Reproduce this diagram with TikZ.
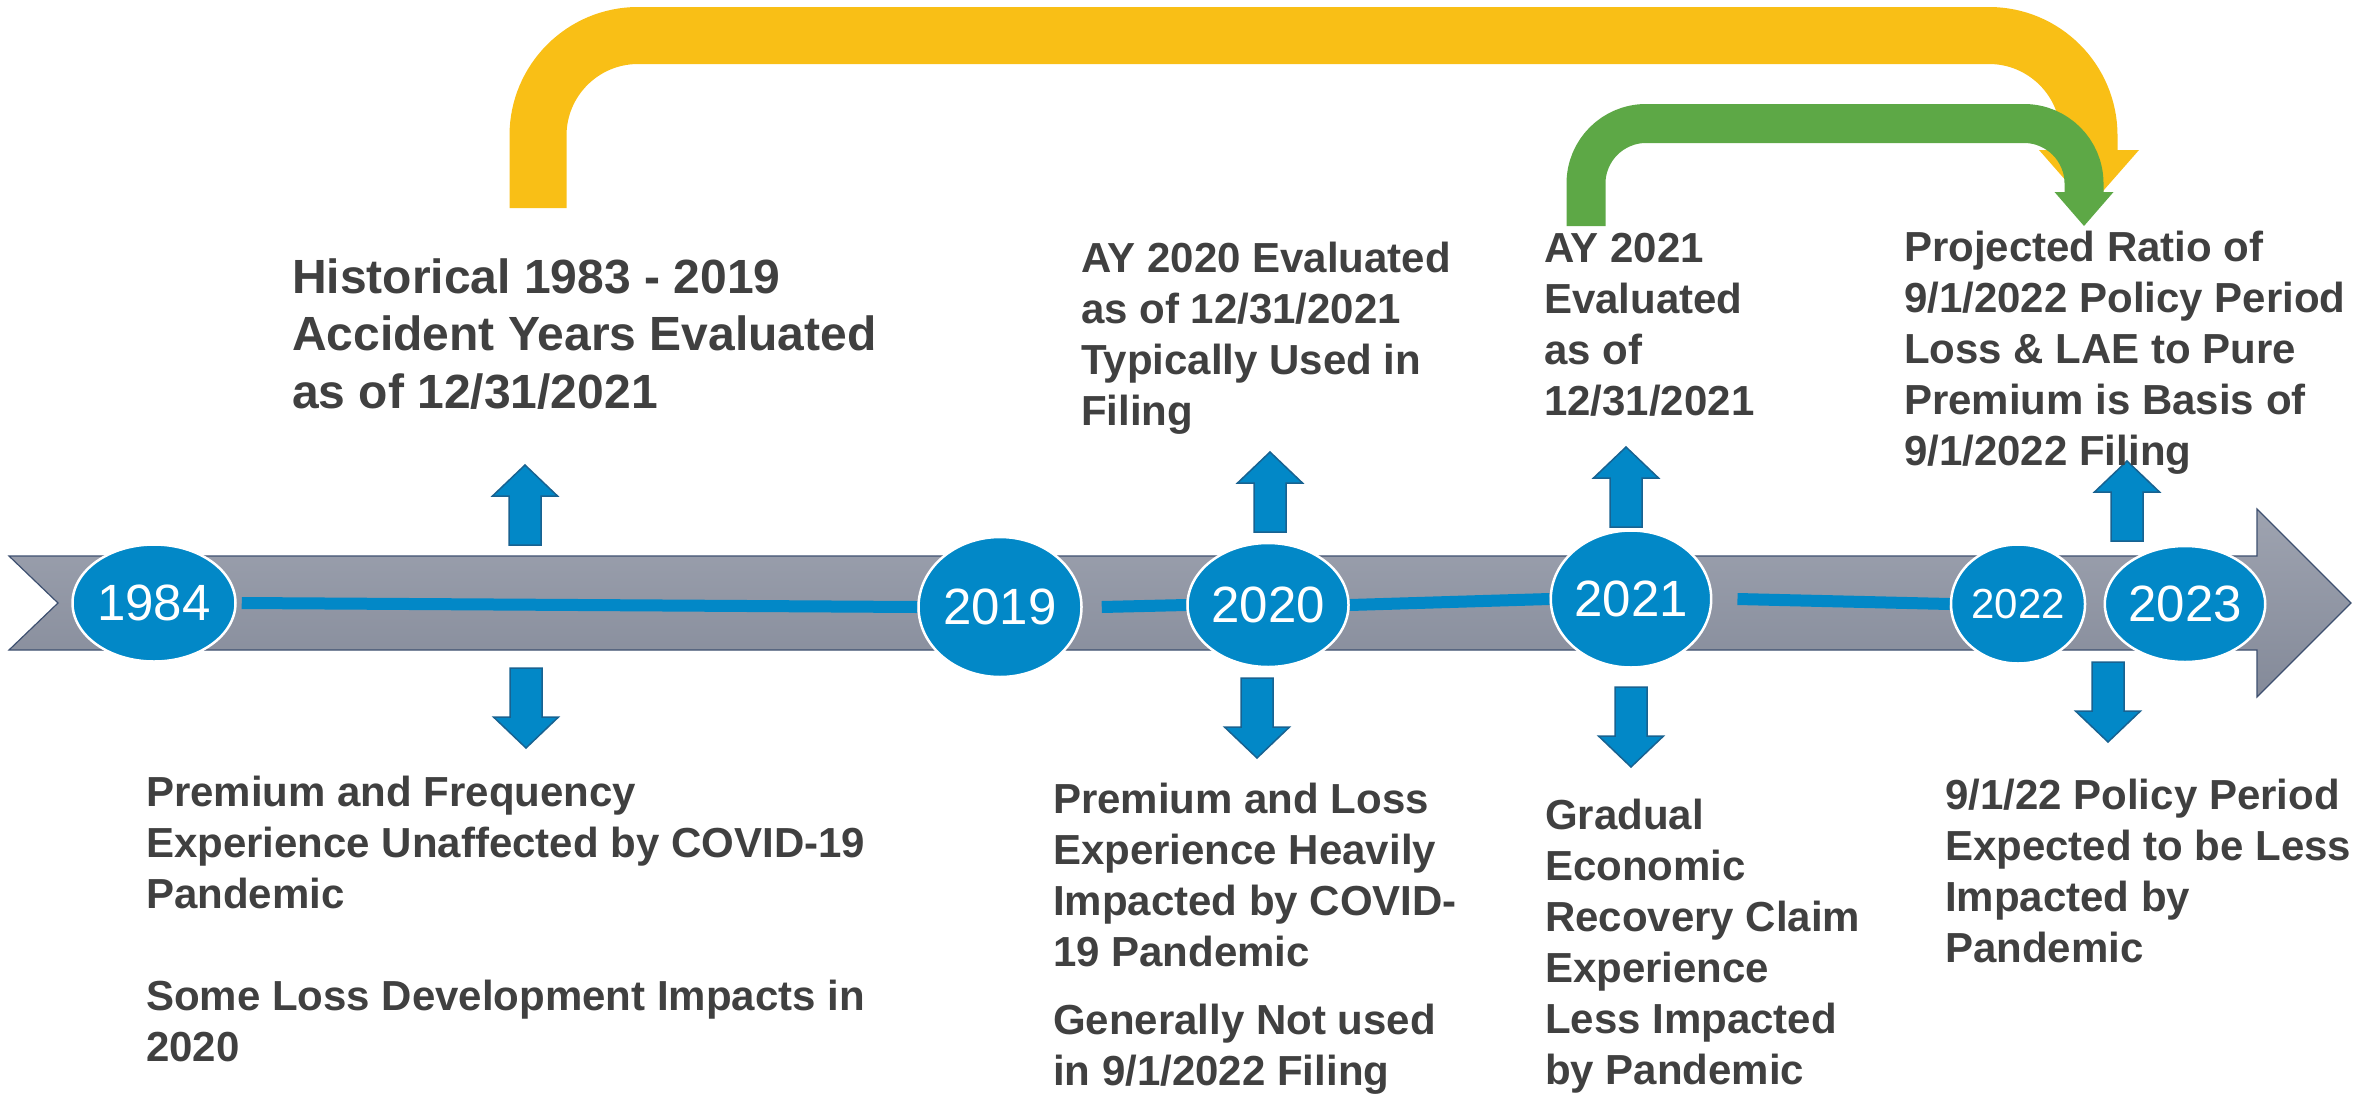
\documentclass[tikz,border=0pt]{standalone}
\usepackage{fontspec}
\setmainfont{Liberation Sans}
\usetikzlibrary{shapes.geometric,backgrounds}

\definecolor{yearblue}{RGB}{2,136,199}
\definecolor{arrowedge}{RGB}{24,98,145}
\definecolor{bandtop}{RGB}{158,163,176}
\definecolor{bandbot}{RGB}{132,138,153}
\definecolor{bandedge}{RGB}{62,80,112}
\definecolor{textgray}{RGB}{64,64,64}
\definecolor{arcyellow}{RGB}{249,191,22}
\definecolor{arcgreen}{RGB}{93,168,70}

\tikzset{
	year/.style={ellipse, fill=yearblue, draw=white, line width=2.5pt, inner sep=0pt, text=white, font=\fontsize{51}{51}\selectfont},
	note/.style={anchor=base west, align=left, inner sep=0pt, text=textgray, font=\bfseries\fontsize{42}{51}\selectfont},
	blockarrow/.style={fill=yearblue, draw=arrowedge, line width=1.5pt},
	tline/.style={draw=yearblue, line width=12pt},
}

\begin{document}
\begin{tikzpicture}[x=1pt, y=-1pt]
	\useasboundingbox (0,0) rectangle (2379,1095);

	% years on the band
	\node[year, minimum width=163pt, minimum height=117pt] (y1984) at (154,603) {1984};
	\node[year, minimum width=163pt, minimum height=140pt] (y2019) at (1000,607) {2019};
	\node[year, minimum width=161pt, minimum height=124pt] (y2020) at (1268,605) {2020};
	\node[year, minimum width=155pt, minimum height=137pt] (y2021) at (1631,599) {2021};
	\node[year, minimum width=134pt, minimum height=119pt, font=\fontsize{42}{42}\selectfont] (y2022) at (2018,604) {2022};
	\node[year, minimum width=136pt, minimum height=116pt] (y2023) at (2185,604) {2023};

	\begin{scope}[on background layer]
		\draw[top color=bandtop, bottom color=bandbot, draw=bandedge, line width=1.2pt]
			(9,556) -- (2257,556) -- (2257,509) -- (2351,603) -- (2257,697) -- (2257,650) -- (9,650) -- (58,603) -- cycle;
		\foreach \a/\b/\g in {1984/2019/5, 2019/2020/19, 2020/2021/0, 2021/2022/25}{
			\draw[tline] ([xshift=\g]y\a.east) -- (y\b.west);
		}
	\end{scope}

	% block arrows above and below the band
	\foreach \x/\y in {525/465, 1270/452, 1626/447, 2127/461}{
		\draw[blockarrow] (\x,\y) -- ++(32.5,31) -- ++(-16.5,0) -- ++(0,49) -- ++(-32,0) -- ++(0,-49) -- ++(-16.5,0) -- cycle;
	}
	\foreach \x/\y in {526/748, 1257/758, 1631/767, 2108/742}{
		\draw[blockarrow] (\x,\y) -- ++(32.5,-31) -- ++(-16.5,0) -- ++(0,-49) -- ++(-32,0) -- ++(0,49) -- ++(-16.5,0) -- cycle;
	}

	% notes (placed at the baseline of their last line)
	\node[note, font=\bfseries\fontsize{48}{57.5}\selectfont] (hist) at (292,408) {Historical 1983 - 2019\\Accident Years Evaluated\\as of 12/31/2021};
	\node[note] (ay20) at (1081,425) {AY 2020 Evaluated\\as of 12/31/2021\\Typically Used in\\Filing};
	\node[note] (ay21) at (1544,415) {AY 2021\\Evaluated\\as of\\12/31/2021};
	\node[note] (proj) at (1904,465) {Projected Ratio of\\9/1/2022 Policy Period\\Loss \& LAE to Pure\\Premium is Basis of\\9/1/2022 Filing};

	\node[note] (pre84) at (146,1061) {Premium and Frequency\\Experience Unaffected by COVID-19\\Pandemic\\[51pt]Some Loss Development Impacts in\\2020};
	\node[note] (pre20) at (1053,1085) {Premium and Loss\\Experience Heavily\\Impacted by COVID-\\19 Pandemic\\[17pt]Generally Not used\\in 9/1/2022 Filing};
	\node[note] (rec21) at (1545,1084) {Gradual\\Economic\\Recovery Claim\\Experience\\Less Impacted\\by Pandemic};
	\node[note] (exp22) at (1945,962) {9/1/22 Policy Period\\Expected to be Less\\Impacted by\\Pandemic};

	% bent arrows into the filing
	\coordinate (histtop) at (538,208);
	\coordinate (projtip) at (2089,207);
	\draw[arcyellow, line width=57pt, rounded corners=100pt] (histtop) -- (538,35.5) -- (2089,35.5) -- (2089,152);
	\fill[arcyellow] (2039,150) -- (2139,150) -- (projtip) -- cycle;

	\coordinate (ay21top) at (1586,226);
	\coordinate (projtip2) at (2084,226);
	\draw[arcgreen, line width=39pt, rounded corners=60pt] (ay21top) -- (1586,123.5) -- (2084,123.5) -- (2084,194);
	\fill[arcgreen] (2054.5,192) -- (2113.5,192) -- (projtip2) -- cycle;
\end{tikzpicture}
\end{document}
